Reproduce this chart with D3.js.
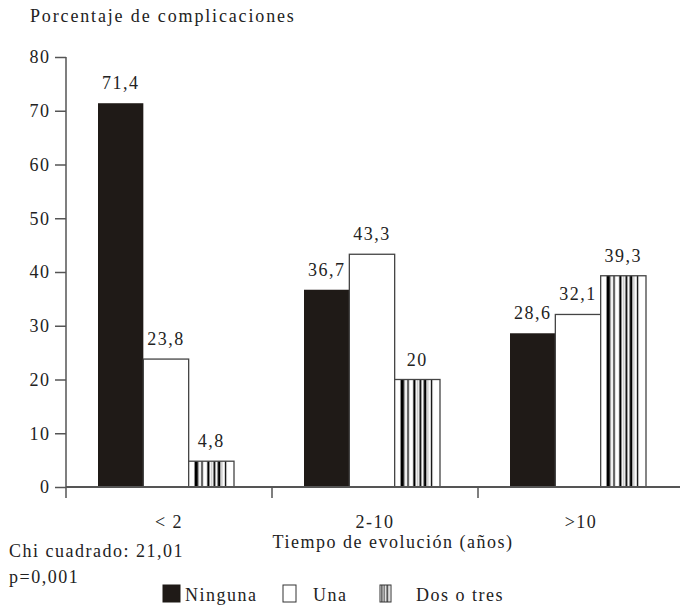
<!DOCTYPE html>
<html><head><meta charset="utf-8">
<script src="https://cdn.jsdelivr.net/npm/d3@7"></script>
<style>body{margin:0;background:#fff;}</style>
</head>
<body><svg id="c" width="680" height="611"></svg>
<script>
const categories = ["< 2", "2-10", ">10"];
const series = ["Ninguna", "Una", "Dos o tres"];
const ninguna = [71.4, 36.7, 28.6];
const una = [23.8, 43.3, 32.1];
const dosOTres = [4.8, 20, 39.3];
const yTicks = [0, 10, 20, 30, 40, 50, 60, 70, 80];
const valueLabels = [["71,4","36,7","28,6"],["23,8","43,3","32,1"],["4,8","20","39,3"]];

const FONT = "Liberation Serif";
const LS = 1.5;
const values = [ninguna, una, dosOTres];
const svg = d3.select("#c");
const defs = svg.append("defs");
const pat = defs.append("pattern").attr("id","stripes")
  .attr("patternUnits","objectBoundingBox").attr("patternContentUnits","objectBoundingBox")
  .attr("width",1).attr("height",1);
pat.append("rect").attr("width",1).attr("height",1).attr("fill","#fff");
[[0.13,0.09],[0.28,0.03],[0.41,0.05],[0.55,0.04],[0.64,0.06],[0.80,0.03]].forEach(([x,w])=>{
  pat.append("rect").attr("x",x).attr("y",0).attr("width",w).attr("height",1).attr("fill","#000");
});
[[0.20,0.015],[0.50,0.015],[0.73,0.015]].forEach(([x,w])=>{
  pat.append("rect").attr("x",x).attr("y",0).attr("width",w).attr("height",1).attr("fill","#999");
});

const y = d3.scaleLinear().domain([0,80]).range([487,57]);
const x = d3.scaleBand().domain(categories).range([66,684]).padding(0);
const xs = d3.scaleBand().domain(series).range([32,168]).padding(0);
const fills = ["#1f1a17","#fff","url(#stripes)"];
const axisColor = "#555";

function txt(sel){
  return sel.attr("font-family",FONT).attr("font-size",18).attr("fill","#222").attr("letter-spacing",LS);
}

// title
txt(svg.append("text")).attr("x",30).attr("y",22).attr("letter-spacing",1.85).text("Porcentaje de complicaciones");

// y axis
const yAxis = svg.append("g").attr("transform","translate(66,0)")
  .call(d3.axisLeft(y).tickValues(yTicks).tickSize(11).tickPadding(4.5).tickFormat(d3.format("d")));
yAxis.attr("font-family",FONT).attr("font-size",18);
yAxis.select(".domain").attr("d","M0,57V498").attr("stroke",axisColor).attr("stroke-width",1.5);
yAxis.selectAll(".tick line").attr("stroke",axisColor).attr("stroke-width",1.5);
txt(yAxis.selectAll(".tick text"));

// bars
series.forEach((s,si)=>{
  const g = svg.append("g");
  g.selectAll("rect").data(categories).join("rect")
    .attr("x",c=>x(c)+xs(s))
    .attr("y",(c,i)=>y(values[si][i]))
    .attr("width",xs.bandwidth())
    .attr("height",(c,i)=>y(0)-y(values[si][i]))
    .attr("fill",fills[si])
    .attr("stroke",si===0?"#1f1a17":"#444").attr("stroke-width",si===0?0:1.3);
  txt(g.selectAll("text").data(categories).join("text"))
    .attr("x",c=>x(c)+xs(s)+xs.bandwidth()/2)
    .attr("y",(c,i)=>y(values[si][i])-14)
    .attr("text-anchor","middle")
    .text((c,i)=>valueLabels[si][i]);
});

// x axis
const xAxis = svg.append("g");
xAxis.append("line").attr("x1",66).attr("x2",680).attr("y1",y(0)).attr("y2",y(0))
  .attr("stroke",axisColor).attr("stroke-width",2);
xAxis.selectAll("line.t").data(categories.slice(1)).join("line").attr("class","t")
  .attr("x1",c=>x(c)).attr("x2",c=>x(c)).attr("y1",y(0)).attr("y2",y(0)+11)
  .attr("stroke",axisColor).attr("stroke-width",1.5);
txt(xAxis.selectAll("text").data(categories).join("text"))
  .attr("x",c=>x(c)+x.bandwidth()/2).attr("y",528)
  .attr("text-anchor","middle").text(c=>c);

txt(svg.append("text")).attr("x",393).attr("y",548).attr("text-anchor","middle")
  .text("Tiempo de evolución (años)");
txt(svg.append("text")).attr("x",9).attr("y",557).text("Chi cuadrado: 21,01");
txt(svg.append("text")).attr("x",9).attr("y",583).text("p=0,001");

// legend
const legX = [163, 283, 380];
const legW = [17, 13, 11];
const legT = [185, 313, 416];
const leg = svg.append("g");
series.forEach((s,i)=>{
  leg.append("rect").attr("x",legX[i]).attr("y",585).attr("width",legW[i]).attr("height",17)
    .attr("fill",fills[i]).attr("stroke",i===0?"#1f1a17":"#333").attr("stroke-width",1);
  txt(leg.append("text")).attr("x",legT[i]).attr("y",601).text(s);
});
</script></body></html>
